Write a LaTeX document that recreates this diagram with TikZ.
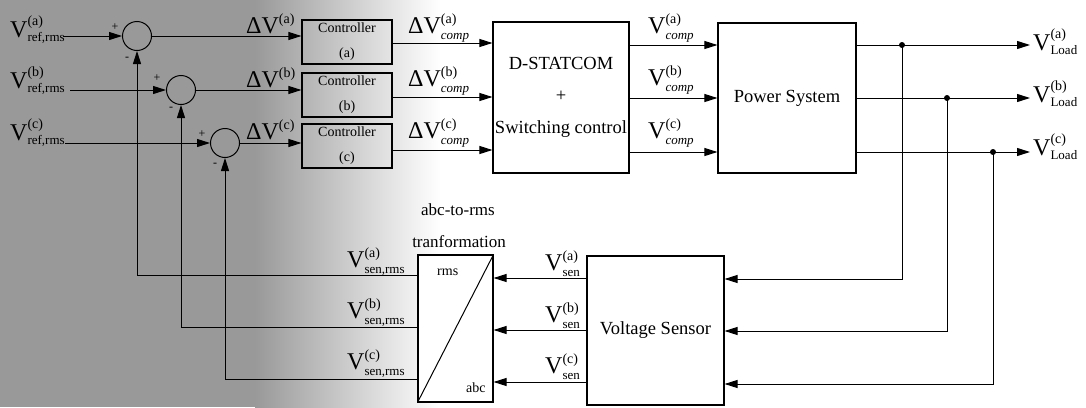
\documentclass[tikz,border=0pt]{standalone}
\usepackage{fontspec}
\setmainfont{Liberation Serif}
\usepackage{amsmath}
\usetikzlibrary{arrows.meta}
\newcommand{\vlab}[3]{#1$^{\text{\fontsize{14}{14}\selectfont #2}}_{\text{\fontsize{13}{13}\selectfont #3}}$}
\newcommand{\vsup}[2]{#1$^{\text{\fontsize{14}{14}\selectfont #2}}$}
\begin{document}
\begin{tikzpicture}[x=1pt,y=-1pt,
 box/.style={draw, line width=1.1pt, inner sep=0pt},
 sig/.style={line width=1pt},
 arr/.style={sig, -{Triangle[length=13pt,width=8pt]}},
 sumc/.style={circle, draw, line width=1pt, minimum size=29pt, inner sep=0pt},
 jdot/.style={circle, fill, minimum size=6pt, inner sep=0pt},
 vfont/.style={font=\fontsize{24}{28}\selectfont, inner sep=0pt},
 bigtxt/.style={font=\fontsize{18.5}{32}\selectfont, align=center},
 ctrl/.style={box, minimum width=90pt, minimum height=44pt, align=center, font=\fontsize{14}{25}\selectfont},
 sgn/.style={font=\fontsize{12}{12}\selectfont, inner sep=0pt},
 small/.style={font=\fontsize{14}{14}\selectfont, inner sep=0pt},
 mid/.style={font=\fontsize{17}{17}\selectfont, inner sep=0pt}]

\useasboundingbox (0,0) rectangle (1086,407);
\fill[black!40] (0,0) rectangle (256,407);
\shade[left color=black!40, right color=white] (255,0) rectangle (440,407);

% summing junctions
\node[sumc] (s1) at (137,36) {};
\node[sumc] (s2) at (181,90) {};
\node[sumc] (s3) at (225,143) {};

% blocks
\node[ctrl] (c1) at (347,42) {Controller\\(a)};
\node[ctrl] (c2) at (347,95) {Controller\\(b)};
\node[ctrl] (c3) at (347,146) {Controller\\(c)};
\node[box, minimum width=136pt, minimum height=151pt, bigtxt] (ds) at (561,97.5) {D-STATCOM\\+\\Switching control};
\node[box, minimum width=138pt, minimum height=150pt, bigtxt] (ps) at (787,98) {Power System};
\node[box, minimum width=137pt, minimum height=149pt, bigtxt] (vs) at (655.5,330.5) {Voltage Sensor};
\node[box, minimum width=75pt, minimum height=147pt, fill=white] (tb) at (455.5,328.5) {};
\draw[sig] (tb.south west) -- (tb.north east);
\node[small, anchor=base west] (trms) at (437,275) {rms};
\node[small, anchor=base west] (tabc) at (466,392) {abc};
\node[mid, anchor=base] (tt1) at (458,215) {abc-to-rms};
\node[mid, anchor=base] (tt2) at (459,247) {tranformation};

% row coordinates
\coordinate (r1) at (0,43); \coordinate (r2) at (0,97); \coordinate (r3) at (0,150);
\coordinate (q1) at (0,45); \coordinate (q2) at (0,98); \coordinate (q3) at (0,152);
\coordinate (u1) at (0,278); \coordinate (u2) at (0,330); \coordinate (u3) at (0,382);

% inputs
\coordinate (i1) at (63,36); \coordinate (i2) at (70,90); \coordinate (i3) at (65,143);
\draw[arr] (i1) -- (s1.west);
\draw[arr] (i2) -- (s2.west);
\draw[arr] (i3) -- (s3.west);
\draw[arr] (s1.east) -- (c1.west |- s1);
\draw[arr] (s2.east) -- (c2.west |- s2);
\draw[arr] (s3.east) -- (c3.west |- s3);
\draw[arr] (c1.east |- r1) -- (ds.west |- r1);
\draw[arr] (c2.east |- r2) -- (ds.west |- r2);
\draw[arr] (c3.east |- r3) -- (ds.west |- r3);
\draw[arr] (ds.east |- q1) -- (ps.west |- q1);
\draw[arr] (ds.east |- q2) -- (ps.west |- q2);
\draw[arr] (ds.east |- q3) -- (ps.west |- q3);

% outputs
\coordinate (o1) at (1030,45); \coordinate (o2) at (1030,98); \coordinate (o3) at (1030,152);
\draw[arr] (ps.east |- q1) -- (o1);
\draw[arr] (ps.east |- q2) -- (o2);
\draw[arr] (ps.east |- q3) -- (o3);
\node[jdot] (j1) at (902,45) {};
\node[jdot] (j2) at (947,98) {};
\node[jdot] (j3) at (993,152) {};
\coordinate (k1) at (902,279); \coordinate (k2) at (947,331); \coordinate (k3) at (993,384);
\draw[arr] (j1.center) -- (k1) -- (vs.east |- k1);
\draw[arr] (j2.center) -- (k2) -- (vs.east |- k2);
\draw[arr] (j3.center) -- (k3) -- (vs.east |- k3);

% sensor to transformation
\draw[arr] (vs.west |- u1) -- (tb.east |- u1);
\draw[arr] (vs.west |- u2) -- (tb.east |- u2);
\draw[arr] (vs.west |- u3) -- (tb.east |- u3);

% feedback
\coordinate (f1) at (137,275); \coordinate (f2) at (181,327); \coordinate (f3) at (225,379);
\draw[arr] (tb.west |- f1) -- (f1) -- (s1.south);
\draw[arr] (tb.west |- f2) -- (f2) -- (s2.south);
\draw[arr] (tb.west |- f3) -- (f3) -- (s3.south);

% signs
\node[sgn] (p1) at (115,27) {+};
\node[sgn] (m1) at (127,59) {-};
\node[sgn] (p2) at (157,78) {+};
\node[sgn] (m2) at (171,109) {-};
\node[sgn] (p3) at (202,134) {+};
\node[sgn] (m3) at (215,165) {-};

% labels
\node[vfont, anchor=base west] (lr1) at (10,37) {\vlab{V}{(a)}{ref,rms}};
\node[vfont, anchor=base west] (lr2) at (10,88) {\vlab{V}{(b)}{ref,rms}};
\node[vfont, anchor=base west] (lr3) at (10,140) {\vlab{V}{(c)}{ref,rms}};
\node[vfont, anchor=base west] (ld1) at (246,33) {\vsup{ΔV}{(a)}};
\node[vfont, anchor=base west] (ld2) at (246,87) {\vsup{ΔV}{(b)}};
\node[vfont, anchor=base west] (ld3) at (246,139) {\vsup{ΔV}{(c)}};
\node[vfont, anchor=base west] (lc1) at (408,33) {\vlab{ΔV}{(a)}{\textit{comp}}};
\node[vfont, anchor=base west] (lc2) at (408,86) {\vlab{ΔV}{(b)}{\textit{comp}}};
\node[vfont, anchor=base west] (lc3) at (408,138) {\vlab{ΔV}{(c)}{\textit{comp}}};
\node[vfont, anchor=base west] (lv1) at (648,33) {\vlab{V}{(a)}{\textit{comp}}};
\node[vfont, anchor=base west] (lv2) at (648,85) {\vlab{V}{(b)}{\textit{comp}}};
\node[vfont, anchor=base west] (lv3) at (648,138) {\vlab{V}{(c)}{\textit{comp}}};
\node[vfont, anchor=base west] (ll1) at (1033,50) {\vlab{V}{(a)}{Load}};
\node[vfont, anchor=base west] (ll2) at (1033,102) {\vlab{V}{(b)}{Load}};
\node[vfont, anchor=base west] (ll3) at (1033,155) {\vlab{V}{(c)}{Load}};
\node[vfont, anchor=base west] (ls1) at (545,270) {\vlab{V}{(a)}{sen}};
\node[vfont, anchor=base west] (ls2) at (545,322) {\vlab{V}{(b)}{sen}};
\node[vfont, anchor=base west] (ls3) at (545,373) {\vlab{V}{(c)}{sen}};
\node[vfont, anchor=base west] (lf1) at (347,267) {\vlab{V}{(a)}{sen,rms}};
\node[vfont, anchor=base west] (lf2) at (347,318) {\vlab{V}{(b)}{sen,rms}};
\node[vfont, anchor=base west] (lf3) at (347,369) {\vlab{V}{(c)}{sen,rms}};
\end{tikzpicture}
\end{document}
